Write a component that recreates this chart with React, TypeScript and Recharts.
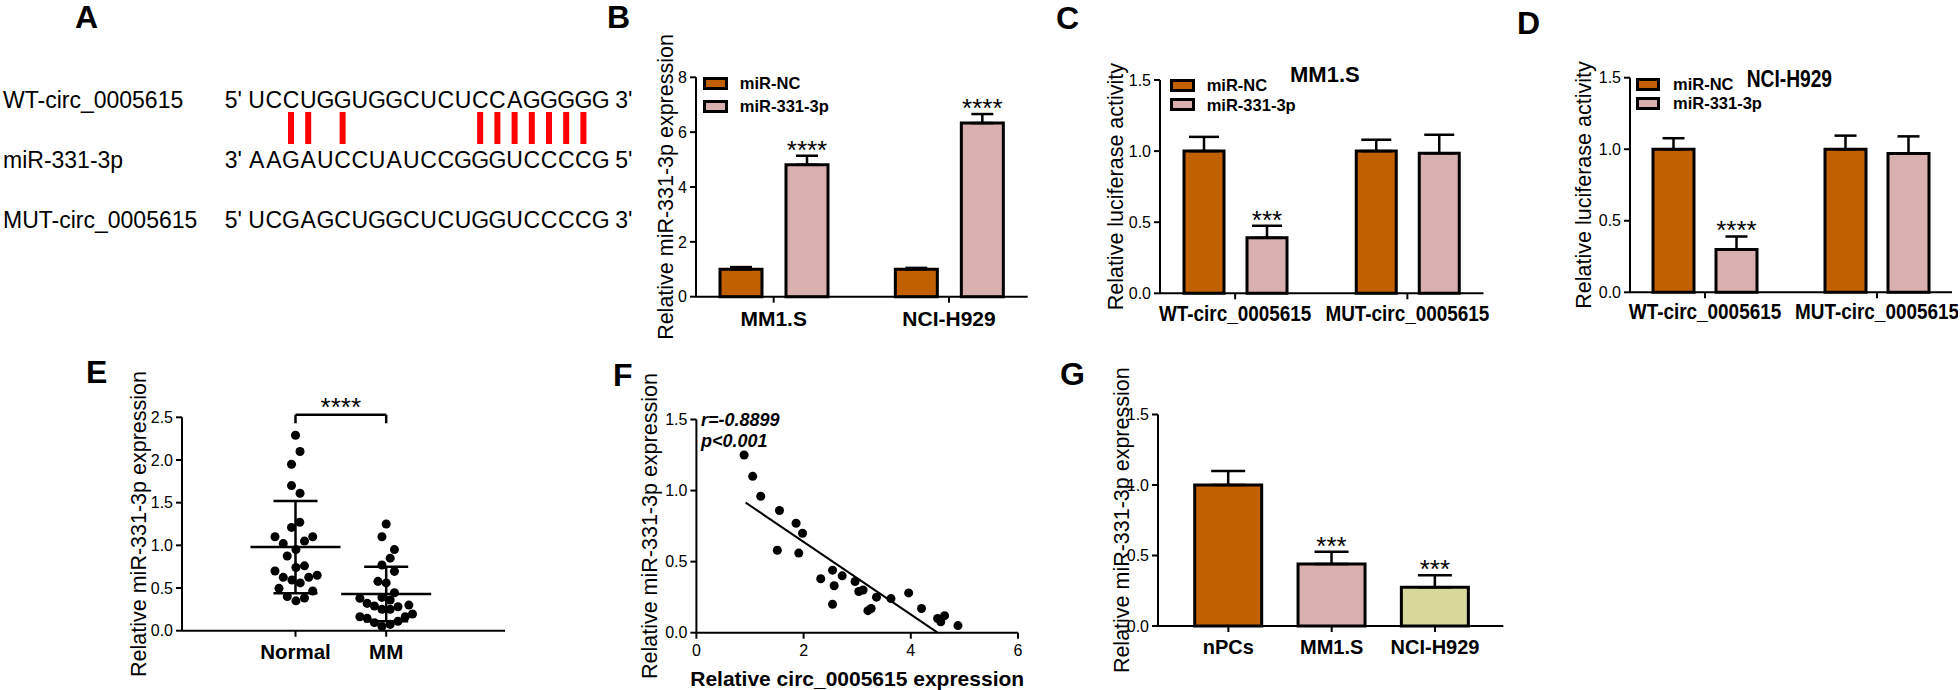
import React from "react";
import {
  BarChart,
  Bar,
  Cell,
  XAxis,
  YAxis,
  ZAxis,
  ErrorBar,
  LabelList,
  Legend,
  ScatterChart,
  Scatter,
  ReferenceLine,
  ReferenceDot,
} from "recharts";

const FONT = "'Liberation Sans', Arial, Helvetica, sans-serif";
const NC_COLOR = "#C06000";
const MIR_COLOR = "#D8B0B0";
const H929_COLOR = "#D8D89A";
const AXIS = { stroke: "#000", strokeWidth: 2 };
const STAR_FS = 26;

// A - binding sites
const wtSeq = "UCCUGGUGGCUCUCCAGGGGG";
const mirSeq = "AAGAUCCUAUCCGGGUCCCCG";
const mutSeq = "UCGAGCUGGCUCUGGUCCCCG";
const pairedSites = [2, 3, 5, 13, 14, 15, 16, 17, 18, 19];

// series names used by B, C, D
const seriesNames = ["miR-NC", "miR-331-3p"];
const seriesColors = [NC_COLOR, MIR_COLOR];

// B - miR-331-3p after transfection
const cellLines = ["MM1.S", "NCI-H929"];
const bNc = [1.0, 1.0];
const bNcErr = [0.08, 0.05];
const bMir = [4.81, 6.33];
const bMirErr = [0.33, 0.33];
const bSig = ["****", "****"];
const bTicks = [0, 2, 4, 6, 8];

// C / D - luciferase
const reporters = ["WT-circ_0005615", "MUT-circ_0005615"];
const cNc = [1.0, 1.0];
const cNcErr = [0.1, 0.08];
const cMir = [0.39, 0.985];
const cMirErr = [0.085, 0.13];
const cSig = ["***", ""];
const dNc = [1.0, 1.0];
const dNcErr = [0.077, 0.095];
const dMir = [0.3, 0.97];
const dMirErr = [0.09, 0.12];
const dSig = ["****", ""];
const lucTicks = [0, 0.5, 1.0, 1.5];

// E - patients
const eGroups = ["Normal", "MM"];
const normalY = [2.29, 2.1, 1.95, 1.7, 1.61, 1.21, 1.27, 1.1, 1.1, 1.02, 1.05, 0.95, 0.875, 0.74, 0.76, 0.7, 0.625, 0.594, 0.56, 0.625, 0.65, 0.496, 0.465, 0.4, 0.383, 0.35];
const normalDx = [0, 0.05, -0.044, -0.044, 0.05, -0.044, 0.047, -0.226, 0.19, -0.135, 0.099, 0.005, -0.091, 0.005, 0.099, -0.226, -0.135, -0.039, 0.052, 0.146, 0.239, -0.182, 0.19, -0.091, 0.099, 0.005];
const mmY = [1.25, 1.1, 0.95, 0.85, 0.77, 0.695, 0.578, 0.56, 0.445, 0.39, 0.36, 0.38, 0.32, 0.29, 0.25, 0.25, 0.28, 0.3, 0.164, 0.145, 0.094, 0.05, 0.074, 0.11, 0.164, 0.195];
const mmDx = [0, -0.047, 0.091, 0.044, -0.047, 0.091, -0.091, 0, 0.091, -0.047, 0.044, -0.29, -0.21, -0.13, -0.047, 0.044, 0.13, 0.25, -0.29, -0.21, -0.13, -0.047, 0.044, 0.13, 0.21, 0.29];
const eMean = [0.98, 0.43];
const eSd = [0.54, 0.32];
const eTicks = [0, 0.5, 1.0, 1.5, 2.0, 2.5];

// F - correlation
const circX = [0.89, 1.05, 1.2, 1.55, 1.86, 1.98, 1.51, 1.91, 2.32, 2.54, 2.72, 2.57, 2.54, 2.96, 3.03, 3.11, 3.2, 3.26, 3.36, 3.63, 3.96, 4.2, 4.5, 4.56, 4.63, 4.88];
const mirY = [1.25, 1.1, 0.96, 0.86, 0.77, 0.7, 0.58, 0.56, 0.38, 0.44, 0.4, 0.33, 0.2, 0.36, 0.29, 0.3, 0.155, 0.17, 0.25, 0.24, 0.28, 0.17, 0.1, 0.077, 0.12, 0.05];
const fitX = [0.92, 4.5];
const fitY = [0.915, 0];
const fXTicks = [0, 2, 4, 6];

// G - cell lines vs nPCs
const gGroups = ["nPCs", "MM1.S", "NCI-H929"];
const gVal = [1.0, 0.44, 0.275];
const gErr = [0.1, 0.087, 0.085];
const gSig = ["", "***", "***"];
const gColors = [NC_COLOR, MIR_COLOR, H929_COLOR];

function frame(plotL: number, plotT: number, plotR: number, plotB: number, labelX: number, top: number, bottom: number, padR = 6) {
  const yW = 2 * (plotL - labelX);
  const left = plotL - yW - 4;
  return {
    left,
    top,
    yW,
    xH: bottom - plotB,
    width: plotR + padR - left,
    height: bottom - top,
    margin: { top: plotT - top, right: padR, left: 4, bottom: 0 },
  };
}

const fmt1 = (v: number) => v.toFixed(1);

const starText = (cx: number, cy: number, text: string) => (
  <text x={cx} y={cy + 0.57 * STAR_FS} textAnchor="middle" fontSize={STAR_FS} fontFamily={FONT} fill="#000">
    {text}
  </text>
);

const barStars = (vals: number[], errs: number[], sig: string[]) => (props: any) => {
  const vb = props.viewBox && props.viewBox.width != null ? props.viewBox : props;
  const i = props.index;
  if (i == null || !sig[i]) return null;
  const ppu = Math.abs(vb.height) / vals[i];
  const errTop = vb.y - errs[i] * ppu;
  return starText(vb.x + vb.width / 2, errTop - 12, sig[i]);
};

const yLabel = (value: string) => ({
  value,
  angle: -90,
  position: "center" as const,
  fontSize: 21.5,
  fill: "#000",
  fontFamily: FONT,
});

const tickStyle = { fontSize: 16, fill: "#000", fontFamily: FONT };
const boldTick = (size: number) => ({ fontSize: size, fill: "#000", fontFamily: FONT, fontWeight: "bold" });

const CondensedTick = (props: any) => {
  const { x, y, payload } = props;
  return (
    <g transform={`translate(${x},${y})`}>
      <text transform="scale(0.86,1)" textAnchor="middle" dy="0.71em" fontSize={22} fontWeight="bold" fontFamily={FONT} fill="#000">
        {payload.value}
      </text>
    </g>
  );
};

const legendContent = (rowH: number, boxW: number, gap: number) => () => (
  <div style={{ fontFamily: FONT }}>
    {seriesNames.map((name, i) => (
      <div key={name} style={{ display: "flex", alignItems: "center", height: rowH }}>
        <div style={{ width: boxW, height: 13, boxSizing: "border-box", border: "3px solid #000", background: seriesColors[i] }} />
        <span style={{ marginLeft: gap, fontSize: 16.5, fontWeight: "bold", lineHeight: 1, color: "#000" }}>{name}</span>
      </div>
    ))}
  </div>
);

type PairedProps = {
  fr: ReturnType<typeof frame>;
  cats: string[];
  nc: number[];
  ncErr: number[];
  mir: number[];
  mirErr: number[];
  sig: string[];
  yMax: number;
  yTicks: number[];
  yFmt: (v: number) => string;
  yTitle: string;
  pad: { left: number; right: number };
  barSize: number;
  barGap: number;
  capW: number;
  legend: { x: number; y: number; rowH: number; boxW: number; gap: number };
  xTick: any;
  tickMargin: number;
};

function PairedBars(p: PairedProps) {
  const L = p.fr;
  const data = p.cats.map((name, i) => ({
    name,
    nc: p.nc[i],
    ncErr: [0, p.ncErr[i]],
    mir: p.mir[i],
    mirErr: [0, p.mirErr[i]],
    sig: p.sig[i],
  }));
  return (
    <div style={{ position: "absolute", left: L.left, top: L.top }}>
      <BarChart width={L.width} height={L.height} data={data} margin={L.margin} barSize={p.barSize} barGap={p.barGap}>
        <XAxis
          dataKey="name"
          height={L.xH}
          padding={p.pad}
          axisLine={AXIS}
          tickLine={AXIS}
          tickSize={6}
          tickMargin={p.tickMargin}
          tick={p.xTick}
          interval={0}
        />
        <YAxis
          width={L.yW}
          domain={[0, p.yMax]}
          ticks={p.yTicks}
          tickFormatter={p.yFmt}
          interval={0}
          axisLine={AXIS}
          tickLine={AXIS}
          tickSize={6}
          tickMargin={3}
          tick={tickStyle}
          label={yLabel(p.yTitle)}
        />
        <Legend
          layout="horizontal"
          verticalAlign="middle"
          align="center"
          wrapperStyle={{ left: p.legend.x - L.left, top: p.legend.y - L.top, width: "auto", height: "auto" }}
          content={legendContent(p.legend.rowH, p.legend.boxW, p.legend.gap)}
        />
        <Bar dataKey="nc" name={seriesNames[0]} fill={NC_COLOR} stroke="#000" strokeWidth={3} isAnimationActive={false}>
          <ErrorBar dataKey="ncErr" direction="y" width={p.capW} stroke="#000" strokeWidth={2.5} />
        </Bar>
        <Bar dataKey="mir" name={seriesNames[1]} fill={MIR_COLOR} stroke="#000" strokeWidth={3} isAnimationActive={false}>
          <ErrorBar dataKey="mirErr" direction="y" width={p.capW} stroke="#000" strokeWidth={2.5} />
          <LabelList dataKey="sig" content={barStars(p.mir, p.mirErr, p.sig)} />
        </Bar>
      </BarChart>
    </div>
  );
}

function PanelE() {
  const L = frame(182, 417.3, 505, 630.7, 138, 345, 690);
  const normal = normalY.map((y, i) => ({ x: 1 + normalDx[i], y }));
  const mm = mmY.map((y, i) => ({ x: 2 + mmDx[i], y }));
  const summary = eMean.map((m, i) => ({ x: i + 1, y: m, sd: eSd[i] }));
  const meanLine = (props: any) => (
    <line x1={props.cx - 45} x2={props.cx + 45} y1={props.cy} y2={props.cy} stroke="#000" strokeWidth={2.5} />
  );
  return (
    <div style={{ position: "absolute", left: L.left, top: L.top }}>
      <ScatterChart width={L.width} height={L.height} margin={L.margin}>
        <XAxis
          type="number"
          dataKey="x"
          domain={[1, 2]}
          ticks={[1, 2]}
          tickFormatter={(v: number) => eGroups[Math.round(v) - 1]}
          padding={{ left: 93, right: 92.5 }}
          height={L.xH}
          axisLine={AXIS}
          tickLine={AXIS}
          tickSize={6}
          tickMargin={8}
          tick={boldTick(20.5)}
          interval={0}
        />
        <YAxis
          type="number"
          dataKey="y"
          width={L.yW}
          domain={[0, 2.5]}
          ticks={eTicks}
          tickFormatter={fmt1}
          interval={0}
          axisLine={AXIS}
          tickLine={AXIS}
          tickSize={6}
          tickMargin={3}
          tick={tickStyle}
          label={yLabel("Relative miR-331-3p expression")}
        />
        <ZAxis range={[64, 64]} />
        <Scatter data={normal} fill="#000" isAnimationActive={false} />
        <Scatter data={mm} fill="#000" isAnimationActive={false} />
        <Scatter data={summary} shape={meanLine} isAnimationActive={false}>
          <ErrorBar dataKey="sd" direction="y" width={22} stroke="#000" strokeWidth={2.5} />
        </Scatter>
        <ReferenceLine segment={[{ x: 1, y: 2.53 }, { x: 2, y: 2.53 }]} ifOverflow="visible" stroke="#000" strokeWidth={2.5} />
        <ReferenceLine segment={[{ x: 1, y: 2.53 }, { x: 1, y: 2.43 }]} ifOverflow="visible" stroke="#000" strokeWidth={2.5} />
        <ReferenceLine segment={[{ x: 2, y: 2.53 }, { x: 2, y: 2.43 }]} ifOverflow="visible" stroke="#000" strokeWidth={2.5} />
        <ReferenceDot
          x={1.5}
          y={2.53}
          r={0}
          ifOverflow="visible"
          label={{
            content: (p: any) => {
              const vb = p.viewBox || { x: 0, y: 0 };
              return starText(vb.x + (vb.width || 0) / 2, vb.y - 14, "****");
            },
          }}
        />
      </ScatterChart>
    </div>
  );
}

function PanelF() {
  const L = frame(696.7, 419.5, 1018.3, 632.7, 650, 345, 690);
  const points = circX.map((x, i) => ({ x, y: mirY[i] }));
  const fit = fitX.map((x, i) => ({ x, y: fitY[i] }));
  return (
    <div style={{ position: "absolute", left: L.left, top: L.top }}>
      <ScatterChart width={L.width} height={L.height} margin={L.margin}>
        <XAxis
          type="number"
          dataKey="x"
          domain={[0, 6]}
          ticks={fXTicks}
          interval={0}
          height={L.xH}
          axisLine={AXIS}
          tickLine={AXIS}
          tickSize={6}
          tickMargin={5.5}
          tick={tickStyle}
          label={{
            value: "Relative circ_0005615 expression",
            position: "insideBottom",
            offset: 4.5,
            fontSize: 21,
            fontWeight: "bold",
            fill: "#000",
            fontFamily: FONT,
          }}
        />
        <YAxis
          type="number"
          dataKey="y"
          width={L.yW}
          domain={[0, 1.5]}
          ticks={lucTicks}
          tickFormatter={fmt1}
          interval={0}
          axisLine={AXIS}
          tickLine={AXIS}
          tickSize={6}
          tickMargin={3}
          tick={tickStyle}
          label={yLabel("Relative miR-331-3p expression")}
        />
        <ZAxis range={[62, 62]} />
        <Scatter data={points} fill="#000" isAnimationActive={false} />
        <Scatter
          data={fit}
          line={{ stroke: "#000", strokeWidth: 2 }}
          shape={() => <g />}
          legendType="none"
          isAnimationActive={false}
        />
      </ScatterChart>
    </div>
  );
}

function PanelG() {
  const L = frame(1158, 414.5, 1503.3, 626, 1121, 345, 690);
  const data = gGroups.map((name, i) => ({ name, value: gVal[i], err: [0, gErr[i]], sig: gSig[i] }));
  return (
    <div style={{ position: "absolute", left: L.left, top: L.top }}>
      <BarChart width={L.width} height={L.height} data={data} margin={L.margin} barSize={67}>
        <XAxis
          dataKey="name"
          height={L.xH}
          padding={{ left: 18.7, right: 16.6 }}
          axisLine={AXIS}
          tickLine={AXIS}
          tickSize={6}
          tickMargin={7.5}
          tick={boldTick(20)}
          interval={0}
        />
        <YAxis
          width={L.yW}
          domain={[0, 1.5]}
          ticks={lucTicks}
          tickFormatter={fmt1}
          interval={0}
          axisLine={AXIS}
          tickLine={AXIS}
          tickSize={6}
          tickMargin={3}
          tick={tickStyle}
          label={yLabel("Relative miR-331-3p expression")}
        />
        <Bar dataKey="value" stroke="#000" strokeWidth={3} isAnimationActive={false}>
          {data.map((d, i) => (
            <Cell key={d.name} fill={gColors[i]} />
          ))}
          <ErrorBar dataKey="err" direction="y" width={17} stroke="#000" strokeWidth={2.5} />
          <LabelList dataKey="sig" content={barStars(gVal, gErr, gSig)} />
        </Bar>
      </BarChart>
    </div>
  );
}

const panelLetters = [
  { t: "A", x: 75, y: 28 },
  { t: "B", x: 607, y: 28 },
  { t: "C", x: 1056, y: 29 },
  { t: "D", x: 1517, y: 34 },
  { t: "E", x: 86, y: 383 },
  { t: "F", x: 613, y: 386 },
  { t: "G", x: 1060, y: 385 },
];

const CELL = 17.2;
const SEQ_X0 = 248;
const seqRows = [
  { label: "WT-circ_0005615", seq: wtSeq, left: "5'", right: "3'", y: 108 },
  { label: "miR-331-3p", seq: mirSeq, left: "3'", right: "5'", y: 168 },
  { label: "MUT-circ_0005615", seq: mutSeq, left: "5'", right: "3'", y: 228 },
];

function Overlay() {
  return (
    <svg width={1960} height={690} style={{ position: "absolute", left: 0, top: 0 }} fontFamily={FONT}>
      {panelLetters.map((l) => (
        <text key={l.t} x={l.x} y={l.y} fontSize={32} fontWeight="bold" fill="#000">
          {l.t}
        </text>
      ))}
      {seqRows.map((r) => (
        <g key={r.label} fontSize={23} fill="#000">
          <text x={3} y={r.y}>{r.label}</text>
          <text x={SEQ_X0 - 6} y={r.y} textAnchor="end">{r.left}</text>
          {r.seq.split("").map((c, i) => (
            <text key={i} x={SEQ_X0 + (i + 0.5) * CELL} y={r.y} textAnchor="middle">
              {c}
            </text>
          ))}
          <text x={SEQ_X0 + r.seq.length * CELL + 6} y={r.y}>{r.right}</text>
        </g>
      ))}
      {pairedSites.map((i) => (
        <rect key={i} x={SEQ_X0 + (i + 0.5) * CELL - 3} y={112} width={6} height={32} fill="#FF0000" />
      ))}
      <text x={1290} y={82} fontSize={22} fontWeight="bold" fill="#000">MM1.S</text>
      <text transform="translate(1746.7,87.3) scale(0.8,1)" fontSize={24} fontWeight="bold" fill="#000">NCI-H929</text>
      <text x={701} y={426} fontSize={18} fontWeight="bold" fontStyle="italic" fill="#000">r=-0.8899</text>
      <text x={701} y={447} fontSize={18} fontWeight="bold" fontStyle="italic" fill="#000">p&lt;0.001</text>
    </svg>
  );
}

export default function App() {
  return (
    <div style={{ position: "absolute", left: 0, top: 0, width: 1960, height: 690, overflow: "hidden", background: "#fff", fontFamily: FONT }}>
      <Overlay />
      <PairedBars
        fr={frame(696, 77.3, 1027.7, 296.7, 665, 0, 345)}
        cats={cellLines}
        nc={bNc}
        ncErr={bNcErr}
        mir={bMir}
        mirErr={bMirErr}
        sig={bSig}
        yMax={8}
        yTicks={bTicks}
        yFmt={(v) => String(v)}
        yTitle="Relative miR-331-3p expression"
        pad={{ left: -10, right: -9 }}
        barSize={42}
        barGap={24}
        capW={11}
        legend={{ x: 702.8, y: 72, rowH: 23, boxW: 25, gap: 12 }}
        xTick={boldTick(21)}
        tickMargin={8}
      />
      <PairedBars
        fr={frame(1160, 80, 1483.5, 293.3, 1115, 0, 345)}
        cats={reporters}
        nc={cNc}
        ncErr={cNcErr}
        mir={cMir}
        mirErr={cMirErr}
        sig={cSig}
        yMax={1.5}
        yTicks={lucTicks}
        yFmt={fmt1}
        yTitle="Relative luciferase activity"
        pad={{ left: -11, right: -10 }}
        barSize={40}
        barGap={23}
        capW={15}
        legend={{ x: 1170, y: 75.7, rowH: 19.5, boxW: 25, gap: 11.7 }}
        xTick={<CondensedTick />}
        tickMargin={6}
      />
      <PairedBars
        fr={frame(1630, 77.7, 1952, 292.3, 1583.5, 0, 345)}
        cats={reporters}
        nc={dNc}
        ncErr={dNcErr}
        mir={dMir}
        mirErr={dMirErr}
        sig={dSig}
        yMax={1.5}
        yTicks={lucTicks}
        yFmt={fmt1}
        yTitle="Relative luciferase activity"
        pad={{ left: -11, right: -11 }}
        barSize={41}
        barGap={22}
        capW={11}
        legend={{ x: 1636, y: 74.7, rowH: 19, boxW: 24, gap: 13 }}
        xTick={<CondensedTick />}
        tickMargin={5.5}
      />
      <PanelE />
      <PanelF />
      <PanelG />
    </div>
  );
}
